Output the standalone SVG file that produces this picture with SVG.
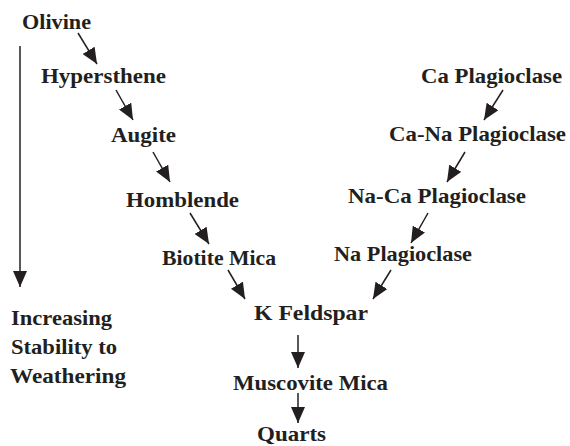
<svg xmlns="http://www.w3.org/2000/svg" width="570" height="446" viewBox="0 0 570 446">
  <style>
    .lbl { font-family: "Liberation Serif", "Times New Roman", serif; font-weight: bold; font-size: 22px; fill: #231f20; }
    .arr { stroke: #231f20; stroke-width: 1.5; fill: none; marker-end: url(#head); }
  </style>
  <defs>
    <marker id="head" markerUnits="userSpaceOnUse" markerWidth="16" markerHeight="14" refX="16" refY="7" orient="auto">
      <path d="M0,0 L16,7 L0,14 z" fill="#231f20"/>
    </marker>
  </defs>
  <rect width="570" height="446" fill="#ffffff"/>

  <!-- mineral nodes -->
  <g id="olivine"><text class="lbl" x="22" y="29" textLength="69" lengthAdjust="spacingAndGlyphs">Olivine</text></g>
  <g id="hypersthene"><text class="lbl" x="41" y="83" textLength="125" lengthAdjust="spacingAndGlyphs">Hypersthene</text></g>
  <g id="augite"><text class="lbl" x="111" y="142" textLength="65" lengthAdjust="spacingAndGlyphs">Augite</text></g>
  <g id="homblende"><text class="lbl" x="126" y="207" textLength="113" lengthAdjust="spacingAndGlyphs">Homblende</text></g>
  <g id="biotite-mica"><text class="lbl" x="162" y="265" textLength="114" lengthAdjust="spacingAndGlyphs">Biotite Mica</text></g>
  <g id="ca-plagioclase"><text class="lbl" x="421" y="83" textLength="141" lengthAdjust="spacingAndGlyphs">Ca Plagioclase</text></g>
  <g id="ca-na-plagioclase"><text class="lbl" x="389" y="141" textLength="177" lengthAdjust="spacingAndGlyphs">Ca-Na Plagioclase</text></g>
  <g id="na-ca-plagioclase"><text class="lbl" x="348" y="203" textLength="178" lengthAdjust="spacingAndGlyphs">Na-Ca Plagioclase</text></g>
  <g id="na-plagioclase"><text class="lbl" x="334" y="261" textLength="138" lengthAdjust="spacingAndGlyphs">Na Plagioclase</text></g>
  <g id="k-feldspar"><text class="lbl" x="254" y="320" textLength="114" lengthAdjust="spacingAndGlyphs">K Feldspar</text></g>
  <g id="muscovite-mica"><text class="lbl" x="233" y="390" textLength="155" lengthAdjust="spacingAndGlyphs">Muscovite Mica</text></g>
  <g id="quarts"><text class="lbl" x="257" y="441" textLength="69" lengthAdjust="spacingAndGlyphs">Quarts</text></g>
  <g id="stability-note">
    <text class="lbl" x="11" y="325" textLength="101" lengthAdjust="spacingAndGlyphs">Increasing</text>
    <text class="lbl" x="11" y="354" textLength="106" lengthAdjust="spacingAndGlyphs">Stability to</text>
    <text class="lbl" x="10" y="383" textLength="116" lengthAdjust="spacingAndGlyphs">Weathering</text>
  </g>

  <!-- connectors -->
  <g id="connectors">
    <line class="arr" x1="20" y1="46" x2="20" y2="287"/>
    <line class="arr" x1="78" y1="33" x2="97" y2="64"/>
    <line class="arr" x1="116" y1="90" x2="133" y2="120"/>
    <line class="arr" x1="153" y1="152" x2="170" y2="182"/>
    <line class="arr" x1="190" y1="213" x2="209" y2="244"/>
    <line class="arr" x1="228" y1="270" x2="245" y2="299"/>
    <line class="arr" x1="503" y1="90" x2="484" y2="120"/>
    <line class="arr" x1="465" y1="152" x2="447" y2="182"/>
    <line class="arr" x1="428" y1="213" x2="411" y2="243"/>
    <line class="arr" x1="391" y1="270" x2="373" y2="299"/>
    <line class="arr" x1="298" y1="335" x2="298" y2="368"/>
    <line class="arr" x1="298" y1="393" x2="298" y2="423"/>
  </g>
</svg>
